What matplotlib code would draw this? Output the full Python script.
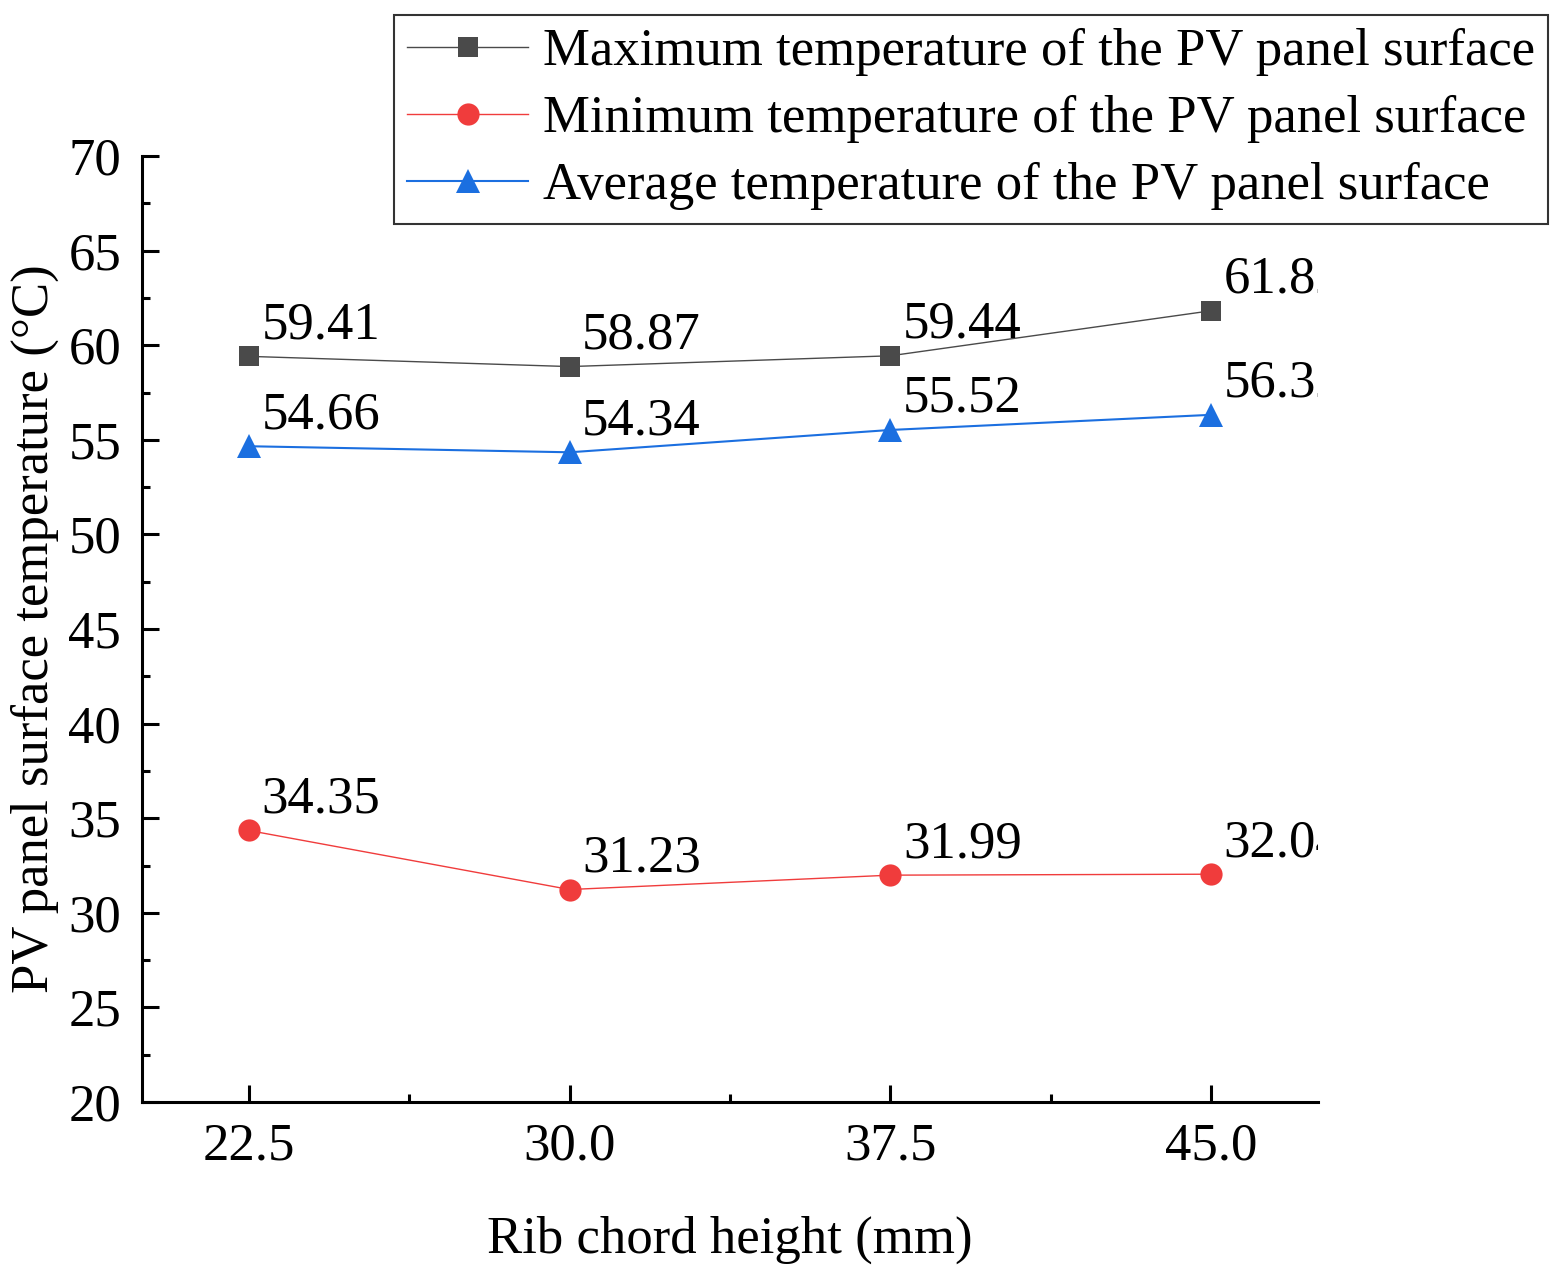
import matplotlib
matplotlib.use("Agg")
import matplotlib.pyplot as plt
from matplotlib.ticker import MultipleLocator

plt.rcParams['font.family'] = ['Liberation Serif', 'DejaVu Serif']

# data
rib_height = [22.5, 30.0, 37.5, 45.0]
t_max = [59.41, 58.87, 59.44, 61.82]
t_min = [34.35, 31.23, 31.99, 32.04]
t_avg = [54.66, 54.34, 55.52, 56.32]
x_ticks = [22.5, 30.0, 37.5, 45.0]
x_ticklabels = ['22.5', '30.0', '37.5', '45.0']

names = ['Maximum temperature of the PV panel surface',
         'Minimum temperature of the PV panel surface',
         'Average temperature of the PV panel surface']

fs = 38
fig = plt.figure(figsize=(15.59, 12.75), dpi=100)
ax = fig.add_axes([142/1559, 1 - 1102/1275, (1318 - 142)/1559, (1102 - 156)/1275])

# values, colour, marker, marker size, line width
series = [
    (t_max, '#4a4a4a', 's', 14, 1.0),
    (t_min, '#f03c3c', 'o', 16, 1.0),
    (t_avg, '#1b6fe0', '^', 17, 1.5),
]
for (vals, c, m, ms, lw), lab in zip(series, names):
    ax.plot(rib_height, vals, color=c, lw=lw, marker=m, ms=ms,
            markeredgewidth=0, label=lab)
    for xv, yv in zip(rib_height, vals):
        ax.annotate('%.2f' % yv, (xv, yv), xytext=(9, 13), textcoords='offset points',
                    fontsize=fs, ha='left', va='baseline', annotation_clip=False,
                    clip_on=True)

ax.set_xlim(20, 47.5)
ax.set_ylim(20, 70)
ax.set_xticks(x_ticks)
ax.set_xticklabels(x_ticklabels)
ax.xaxis.set_minor_locator(MultipleLocator(3.75))
ax.yaxis.set_major_locator(MultipleLocator(5))
ax.yaxis.set_minor_locator(MultipleLocator(2.5))

for s in ['top', 'right']:
    ax.spines[s].set_visible(False)
for s in ['left', 'bottom']:
    ax.spines[s].set_linewidth(2.2)

ax.tick_params(which='major', direction='in', length=12, width=2.2, labelsize=fs, pad=15)
ax.tick_params(which='minor', direction='in', length=6, width=2.2)

ax.set_xlabel('Rib chord height (mm)', fontsize=fs, labelpad=32)
ax.set_ylabel('PV panel surface temperature (°C)', fontsize=fs, labelpad=7)

leg = fig.legend(loc='upper right', bbox_to_anchor=(1548/1559, 1 - 15/1275),
                 fontsize=fs, frameon=True, fancybox=False, edgecolor='black',
                 handlelength=2.3, handletextpad=0.27, borderpad=0.25,
                 labelspacing=0.36, borderaxespad=0)
leg.get_frame().set_linewidth(1.5)

plt.savefig('out.png', dpi=100)
plt.close()
